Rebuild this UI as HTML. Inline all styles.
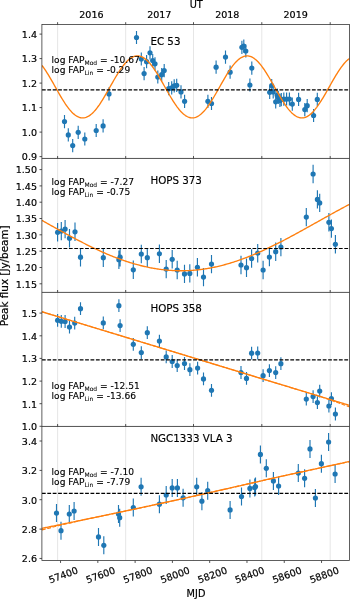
<!DOCTYPE html>
<html><head><meta charset="utf-8"><title>Light curves</title>
<style>html,body{margin:0;padding:0;background:#fff}svg{display:block}</style>
</head><body>
<svg width="350" height="599" viewBox="0 0 350 599" font-family="'DejaVu Sans','Liberation Sans',sans-serif" fill="#000">
<style>text{stroke:#000;stroke-width:0.2px}.a{stroke-width:0.12px}.t{stroke-width:0.15px}.s{stroke-width:0.05px}</style>
<rect width="350" height="599" fill="#fff"/>
<clipPath id="c0"><rect x="41.9" y="24.6" width="307.6" height="133.85"/></clipPath>
<path d="M57.6 24.6V158.45M125.7 24.6V158.45M193.5 24.6V158.45M261.8 24.6V158.45M330.2 24.6V158.45" stroke="#e3e3e3" stroke-width="0.9" fill="none"/>
<g clip-path="url(#c0)">
<path d="M64.5 115.0V128.2M68.3 128.3V141.5M72.7 139.0V152.2M78.2 125.7V138.9M84.8 132.4V145.6M96.2 123.9V137.1M103.1 119.3V132.5M109.0 87.3V100.5M136.5 30.9V44.1M141.3 52.4V65.6M144.1 67.0V80.2M146.6 55.1V68.3M150.0 46.2V59.4M152.7 54.0V67.2M155.0 57.2V70.4M157.8 70.4V83.6M161.7 68.1V81.3M164.2 64.0V77.2M168.7 82.1V95.3M171.7 81.2V94.4M174.2 79.3V92.5M176.7 78.7V91.9M181.0 85.3V98.5M184.6 94.7V107.9M207.9 94.7V107.9M211.5 96.9V110.1M216.1 60.6V73.8M225.5 50.5V63.7M230.1 65.6V78.8M241.9 40.7V53.9M243.8 39.6V52.8M245.8 44.4V57.6M249.9 78.4V91.6M251.8 61.5V74.7M269.7 85.7V98.9M271.7 78.9V92.1M273.2 85.4V98.6M275.7 95.2V108.4M277.2 88.6V101.8M278.3 90.7V103.9M279.9 93.8V107.0M281.3 93.0V106.2M283.8 92.6V105.8M286.6 92.4V105.6M289.4 92.4V105.6M292.3 97.5V110.7M298.6 92.8V106.0M304.8 103.0V116.2M307.2 99.1V112.3M313.6 108.9V122.1M317.3 92.8V106.0" stroke="#1f77b4" stroke-width="1.15" fill="none"/>
<circle cx="64.5" cy="121.6" r="2.6" fill="#1f77b4"/>
<circle cx="68.3" cy="134.9" r="2.6" fill="#1f77b4"/>
<circle cx="72.7" cy="145.6" r="2.6" fill="#1f77b4"/>
<circle cx="78.2" cy="132.3" r="2.6" fill="#1f77b4"/>
<circle cx="84.8" cy="139.0" r="2.6" fill="#1f77b4"/>
<circle cx="96.2" cy="130.5" r="2.6" fill="#1f77b4"/>
<circle cx="103.1" cy="125.9" r="2.6" fill="#1f77b4"/>
<circle cx="109.0" cy="93.9" r="2.6" fill="#1f77b4"/>
<circle cx="136.5" cy="37.5" r="2.6" fill="#1f77b4"/>
<circle cx="141.3" cy="59.0" r="2.6" fill="#1f77b4"/>
<circle cx="144.1" cy="73.6" r="2.6" fill="#1f77b4"/>
<circle cx="146.6" cy="61.7" r="2.6" fill="#1f77b4"/>
<circle cx="150.0" cy="52.8" r="2.6" fill="#1f77b4"/>
<circle cx="152.7" cy="60.6" r="2.6" fill="#1f77b4"/>
<circle cx="155.0" cy="63.8" r="2.6" fill="#1f77b4"/>
<circle cx="157.8" cy="77.0" r="2.6" fill="#1f77b4"/>
<circle cx="161.7" cy="74.7" r="2.6" fill="#1f77b4"/>
<circle cx="164.2" cy="70.6" r="2.6" fill="#1f77b4"/>
<circle cx="168.7" cy="88.7" r="2.6" fill="#1f77b4"/>
<circle cx="171.7" cy="87.8" r="2.6" fill="#1f77b4"/>
<circle cx="174.2" cy="85.9" r="2.6" fill="#1f77b4"/>
<circle cx="176.7" cy="85.3" r="2.6" fill="#1f77b4"/>
<circle cx="181.0" cy="91.9" r="2.6" fill="#1f77b4"/>
<circle cx="184.6" cy="101.3" r="2.6" fill="#1f77b4"/>
<circle cx="207.9" cy="101.3" r="2.6" fill="#1f77b4"/>
<circle cx="211.5" cy="103.5" r="2.6" fill="#1f77b4"/>
<circle cx="216.1" cy="67.2" r="2.6" fill="#1f77b4"/>
<circle cx="225.5" cy="57.1" r="2.6" fill="#1f77b4"/>
<circle cx="230.1" cy="72.2" r="2.6" fill="#1f77b4"/>
<circle cx="241.9" cy="47.3" r="2.6" fill="#1f77b4"/>
<circle cx="243.8" cy="46.2" r="2.6" fill="#1f77b4"/>
<circle cx="245.8" cy="51.0" r="2.6" fill="#1f77b4"/>
<circle cx="249.9" cy="85.0" r="2.6" fill="#1f77b4"/>
<circle cx="251.8" cy="68.1" r="2.6" fill="#1f77b4"/>
<circle cx="269.7" cy="92.3" r="2.6" fill="#1f77b4"/>
<circle cx="271.7" cy="85.5" r="2.6" fill="#1f77b4"/>
<circle cx="273.2" cy="92.0" r="2.6" fill="#1f77b4"/>
<circle cx="275.7" cy="101.8" r="2.6" fill="#1f77b4"/>
<circle cx="277.2" cy="95.2" r="2.6" fill="#1f77b4"/>
<circle cx="278.3" cy="97.3" r="2.6" fill="#1f77b4"/>
<circle cx="279.9" cy="100.4" r="2.6" fill="#1f77b4"/>
<circle cx="281.3" cy="99.6" r="2.6" fill="#1f77b4"/>
<circle cx="283.8" cy="99.2" r="2.6" fill="#1f77b4"/>
<circle cx="286.6" cy="99.0" r="2.6" fill="#1f77b4"/>
<circle cx="289.4" cy="99.0" r="2.6" fill="#1f77b4"/>
<circle cx="292.3" cy="104.1" r="2.6" fill="#1f77b4"/>
<circle cx="298.6" cy="99.4" r="2.6" fill="#1f77b4"/>
<circle cx="304.8" cy="109.6" r="2.6" fill="#1f77b4"/>
<circle cx="307.2" cy="105.7" r="2.6" fill="#1f77b4"/>
<circle cx="313.6" cy="115.5" r="2.6" fill="#1f77b4"/>
<circle cx="317.3" cy="99.4" r="2.6" fill="#1f77b4"/>
<path d="M41.90 65.41L42.93 66.76L43.95 68.18L44.98 69.66L46.00 71.21L47.03 72.81L48.05 74.45L49.08 76.14L50.10 77.87L51.13 79.63L52.15 81.41L53.18 83.21L54.20 85.02L55.23 86.85L56.25 88.67L57.28 90.48L58.31 92.28L59.33 94.07L60.36 95.83L61.38 97.56L62.41 99.25L63.43 100.90L64.46 102.50L65.48 104.05L66.51 105.53L67.53 106.96L68.56 108.31L69.58 109.59L70.61 110.79L71.63 111.91L72.66 112.94L73.69 113.89L74.71 114.74L75.74 115.49L76.76 116.14L77.79 116.70L78.81 117.15L79.84 117.50L80.86 117.74L81.89 117.87L82.91 117.90L83.94 117.82L84.96 117.63L85.99 117.34L87.01 116.94L88.04 116.44L89.07 115.83L90.09 115.13L91.12 114.33L92.14 113.43L93.17 112.44L94.19 111.37L95.22 110.21L96.24 108.97L97.27 107.65L98.29 106.26L99.32 104.81L100.34 103.29L101.37 101.71L102.39 100.09L103.42 98.42L104.45 96.71L105.47 94.96L106.50 93.19L107.52 91.40L108.55 89.59L109.57 87.77L110.60 85.95L111.62 84.13L112.65 82.32L113.67 80.52L114.70 78.75L115.72 77.01L116.75 75.30L117.77 73.63L118.80 72.01L119.83 70.44L120.85 68.92L121.88 67.47L122.90 66.08L123.93 64.77L124.95 63.53L125.98 62.38L127.00 61.31L128.03 60.32L129.05 59.43L130.08 58.63L131.10 57.94L132.13 57.34L133.15 56.84L134.18 56.45L135.21 56.16L136.23 55.98L137.26 55.90L138.28 55.93L139.31 56.07L140.33 56.32L141.36 56.67L142.38 57.13L143.41 57.68L144.43 58.34L145.46 59.10L146.48 59.96L147.51 60.90L148.53 61.94L149.56 63.06L150.59 64.27L151.61 65.55L152.64 66.91L153.66 68.34L154.69 69.83L155.71 71.38L156.74 72.98L157.76 74.63L158.79 76.33L159.81 78.06L160.84 79.82L161.86 81.60L162.89 83.41L163.91 85.22L164.94 87.04L165.97 88.86L166.99 90.68L168.02 92.48L169.04 94.26L170.07 96.02L171.09 97.74L172.12 99.43L173.14 101.07L174.17 102.67L175.19 104.21L176.22 105.69L177.24 107.11L178.27 108.45L179.29 109.72L180.32 110.92L181.35 112.03L182.37 113.05L183.40 113.98L184.42 114.82L185.45 115.57L186.47 116.21L187.50 116.75L188.52 117.19L189.55 117.53L190.57 117.76L191.60 117.88L192.62 117.89L193.65 117.80L194.67 117.60L195.70 117.30L196.73 116.89L197.75 116.38L198.78 115.76L199.80 115.05L200.83 114.24L201.85 113.33L202.88 112.33L203.90 111.25L204.93 110.08L205.95 108.83L206.98 107.50L208.00 106.11L209.03 104.64L210.05 103.12L211.08 101.54L212.11 99.91L213.13 98.23L214.16 96.52L215.18 94.77L216.21 93.00L217.23 91.20L218.26 89.39L219.28 87.57L220.31 85.75L221.33 83.93L222.36 82.12L223.38 80.33L224.41 78.56L225.43 76.82L226.46 75.12L227.49 73.45L228.51 71.84L229.54 70.27L230.56 68.76L231.59 67.32L232.61 65.94L233.64 64.63L234.66 63.41L235.69 62.26L236.71 61.20L237.74 60.22L238.76 59.34L239.79 58.55L240.81 57.87L241.84 57.28L242.87 56.79L243.89 56.41L244.92 56.13L245.94 55.96L246.97 55.90L247.99 55.94L249.02 56.09L250.04 56.35L251.07 56.71L252.09 57.18L253.12 57.75L254.14 58.42L255.17 59.19L256.19 60.05L257.22 61.01L258.25 62.06L259.27 63.19L260.30 64.40L261.32 65.70L262.35 67.06L263.37 68.50L264.40 69.99L265.42 71.55L266.45 73.16L267.47 74.81L268.50 76.51L269.52 78.24L270.55 80.01L271.57 81.80L272.60 83.60L273.63 85.42L274.65 87.24L275.68 89.06L276.70 90.87L277.73 92.67L278.75 94.45L279.78 96.20L280.80 97.93L281.83 99.61L282.85 101.25L283.88 102.84L284.90 104.37L285.93 105.85L286.95 107.25L287.98 108.59L289.01 109.86L290.03 111.04L291.06 112.14L292.08 113.16L293.11 114.08L294.13 114.91L295.16 115.64L296.18 116.27L297.21 116.80L298.23 117.23L299.26 117.56L300.28 117.77L301.31 117.88L302.33 117.89L303.36 117.79L304.39 117.58L305.41 117.26L306.44 116.84L307.46 116.32L308.49 115.69L309.51 114.96L310.54 114.14L311.56 113.23L312.59 112.22L313.61 111.13L314.64 109.95L315.66 108.69L316.69 107.36L317.71 105.95L318.74 104.48L319.77 102.95L320.79 101.37L321.82 99.73L322.84 98.05L323.87 96.33L324.89 94.58L325.92 92.80L326.94 91.01L327.97 89.19L328.99 87.37L330.02 85.55L331.04 83.74L332.07 81.93L333.09 80.14L334.12 78.37L335.15 76.64L336.17 74.94L337.20 73.28L338.22 71.67L339.25 70.11L340.27 68.60L341.30 67.17L342.32 65.80L343.35 64.50L344.37 63.28L345.40 62.14L346.42 61.09L347.45 60.12L348.47 59.25L349.50 58.48" stroke="#ff7f0e" stroke-width="1.35" fill="none" stroke-linejoin="round"/>
<path d="M41.9 89.9H349.5" stroke="#000" stroke-width="1.15" stroke-dasharray="3.8 1.6" fill="none"/>
</g>
<path d="M41.9 34.1h-2.4M41.9 58.6h-2.4M41.9 83.1h-2.4M41.9 107.6h-2.4M41.9 132.1h-2.4M41.9 156.6h-2.4" stroke="#333" stroke-width="0.85" fill="none"/>
<text x="37.0" y="37.90" font-size="9.55" text-anchor="end">1.4</text>
<text x="37.0" y="62.40" font-size="9.55" text-anchor="end">1.3</text>
<text x="37.0" y="86.90" font-size="9.55" text-anchor="end">1.2</text>
<text x="37.0" y="111.40" font-size="9.55" text-anchor="end">1.1</text>
<text x="37.0" y="135.90" font-size="9.55" text-anchor="end">1.0</text>
<text x="37.0" y="160.40" font-size="9.55" text-anchor="end">0.9</text>
<text class="t" x="150.4" y="45.0" font-size="10.3">EC 53</text>
<text class="a" x="51.6" y="63.0" font-size="9.1">log FAP<tspan class="s" font-size="6.01" dy="1.6">Mod</tspan><tspan dy="-1.6"> = -10.67</tspan></text>
<text class="a" x="51.6" y="73.1" font-size="9.1">log FAP<tspan class="s" font-size="6.01" dy="1.6">Lin</tspan><tspan dy="-1.6"> = -0.29</tspan></text>
<clipPath id="c1"><rect x="41.9" y="158.45" width="307.6" height="133.95"/></clipPath>
<path d="M57.6 158.45V292.4M125.7 158.45V292.4M193.5 158.45V292.4M261.8 158.45V292.4M330.2 158.45V292.4" stroke="#e3e3e3" stroke-width="0.9" fill="none"/>
<g clip-path="url(#c1)">
<path d="M57.6 223.1V241.5M61.3 221.9V240.3M65.1 219.9V238.3M69.5 229.0V247.4M75.0 222.6V241.0M80.5 248.0V266.4M103.3 248.5V266.9M118.9 250.5V268.9M120.1 248.0V266.4M133.3 260.6V279.0M141.3 244.8V263.2M147.3 248.5V266.9M159.4 244.6V263.0M166.2 259.9V278.3M172.2 250.1V268.5M177.2 260.8V279.2M184.5 264.7V283.1M189.8 264.2V282.6M197.4 258.1V276.5M203.5 267.9V286.3M211.5 254.9V273.3M241.0 255.8V274.2M246.5 258.5V276.9M251.6 249.3V267.7M257.7 244.0V262.4M263.1 260.8V279.2M269.4 247.9V266.3M275.7 242.5V260.9M280.9 237.9V256.3M306.3 207.9V226.3M313.1 164.8V183.2M317.4 190.2V208.6M319.7 193.7V212.1M328.9 213.1V231.5M331.4 219.4V237.8M335.4 235.1V253.5" stroke="#1f77b4" stroke-width="1.15" fill="none"/>
<circle cx="57.6" cy="232.3" r="2.6" fill="#1f77b4"/>
<circle cx="61.3" cy="231.1" r="2.6" fill="#1f77b4"/>
<circle cx="65.1" cy="229.1" r="2.6" fill="#1f77b4"/>
<circle cx="69.5" cy="238.2" r="2.6" fill="#1f77b4"/>
<circle cx="75.0" cy="231.8" r="2.6" fill="#1f77b4"/>
<circle cx="80.5" cy="257.2" r="2.6" fill="#1f77b4"/>
<circle cx="103.3" cy="257.7" r="2.6" fill="#1f77b4"/>
<circle cx="118.9" cy="259.7" r="2.6" fill="#1f77b4"/>
<circle cx="120.1" cy="257.2" r="2.6" fill="#1f77b4"/>
<circle cx="133.3" cy="269.8" r="2.6" fill="#1f77b4"/>
<circle cx="141.3" cy="254.0" r="2.6" fill="#1f77b4"/>
<circle cx="147.3" cy="257.7" r="2.6" fill="#1f77b4"/>
<circle cx="159.4" cy="253.8" r="2.6" fill="#1f77b4"/>
<circle cx="166.2" cy="269.1" r="2.6" fill="#1f77b4"/>
<circle cx="172.2" cy="259.3" r="2.6" fill="#1f77b4"/>
<circle cx="177.2" cy="270.0" r="2.6" fill="#1f77b4"/>
<circle cx="184.5" cy="273.9" r="2.6" fill="#1f77b4"/>
<circle cx="189.8" cy="273.4" r="2.6" fill="#1f77b4"/>
<circle cx="197.4" cy="267.3" r="2.6" fill="#1f77b4"/>
<circle cx="203.5" cy="277.1" r="2.6" fill="#1f77b4"/>
<circle cx="211.5" cy="264.1" r="2.6" fill="#1f77b4"/>
<circle cx="241.0" cy="265.0" r="2.6" fill="#1f77b4"/>
<circle cx="246.5" cy="267.7" r="2.6" fill="#1f77b4"/>
<circle cx="251.6" cy="258.5" r="2.6" fill="#1f77b4"/>
<circle cx="257.7" cy="253.2" r="2.6" fill="#1f77b4"/>
<circle cx="263.1" cy="270.0" r="2.6" fill="#1f77b4"/>
<circle cx="269.4" cy="257.1" r="2.6" fill="#1f77b4"/>
<circle cx="275.7" cy="251.7" r="2.6" fill="#1f77b4"/>
<circle cx="280.9" cy="247.1" r="2.6" fill="#1f77b4"/>
<circle cx="306.3" cy="217.1" r="2.6" fill="#1f77b4"/>
<circle cx="313.1" cy="174.0" r="2.6" fill="#1f77b4"/>
<circle cx="317.4" cy="199.4" r="2.6" fill="#1f77b4"/>
<circle cx="319.7" cy="202.9" r="2.6" fill="#1f77b4"/>
<circle cx="328.9" cy="222.3" r="2.6" fill="#1f77b4"/>
<circle cx="331.4" cy="228.6" r="2.6" fill="#1f77b4"/>
<circle cx="335.4" cy="244.3" r="2.6" fill="#1f77b4"/>
<path d="M41.90 220.38L42.93 220.96L43.95 221.53L44.98 222.11L46.00 222.68L47.03 223.26L48.05 223.83L49.08 224.41L50.10 224.98L51.13 225.56L52.15 226.13L53.18 226.70L54.20 227.28L55.23 227.85L56.25 228.42L57.28 228.99L58.31 229.56L59.33 230.13L60.36 230.69L61.38 231.26L62.41 231.82L63.43 232.39L64.46 232.95L65.48 233.51L66.51 234.07L67.53 234.63L68.56 235.18L69.58 235.73L70.61 236.29L71.63 236.84L72.66 237.38L73.69 237.93L74.71 238.47L75.74 239.01L76.76 239.55L77.79 240.09L78.81 240.62L79.84 241.15L80.86 241.68L81.89 242.21L82.91 242.73L83.94 243.25L84.96 243.77L85.99 244.28L87.01 244.79L88.04 245.30L89.07 245.81L90.09 246.31L91.12 246.81L92.14 247.30L93.17 247.79L94.19 248.28L95.22 248.76L96.24 249.24L97.27 249.72L98.29 250.19L99.32 250.66L100.34 251.12L101.37 251.58L102.39 252.04L103.42 252.49L104.45 252.94L105.47 253.38L106.50 253.82L107.52 254.26L108.55 254.69L109.57 255.11L110.60 255.53L111.62 255.95L112.65 256.36L113.67 256.77L114.70 257.17L115.72 257.57L116.75 257.96L117.77 258.35L118.80 258.73L119.83 259.11L120.85 259.48L121.88 259.84L122.90 260.20L123.93 260.56L124.95 260.91L125.98 261.26L127.00 261.59L128.03 261.93L129.05 262.26L130.08 262.58L131.10 262.90L132.13 263.21L133.15 263.51L134.18 263.81L135.21 264.11L136.23 264.39L137.26 264.68L138.28 264.95L139.31 265.22L140.33 265.49L141.36 265.74L142.38 266.00L143.41 266.24L144.43 266.48L145.46 266.71L146.48 266.94L147.51 267.16L148.53 267.38L149.56 267.58L150.59 267.79L151.61 267.98L152.64 268.17L153.66 268.35L154.69 268.53L155.71 268.70L156.74 268.86L157.76 269.02L158.79 269.17L159.81 269.31L160.84 269.45L161.86 269.58L162.89 269.70L163.91 269.82L164.94 269.92L165.97 270.03L166.99 270.12L168.02 270.21L169.04 270.30L170.07 270.37L171.09 270.44L172.12 270.50L173.14 270.56L174.17 270.61L175.19 270.65L176.22 270.69L177.24 270.71L178.27 270.74L179.29 270.75L180.32 270.76L181.35 270.76L182.37 270.75L183.40 270.74L184.42 270.72L185.45 270.70L186.47 270.66L187.50 270.62L188.52 270.58L189.55 270.52L190.57 270.46L191.60 270.40L192.62 270.32L193.65 270.24L194.67 270.15L195.70 270.06L196.73 269.96L197.75 269.85L198.78 269.74L199.80 269.62L200.83 269.49L201.85 269.35L202.88 269.21L203.90 269.07L204.93 268.91L205.95 268.75L206.98 268.58L208.00 268.41L209.03 268.23L210.05 268.04L211.08 267.85L212.11 267.65L213.13 267.45L214.16 267.23L215.18 267.01L216.21 266.79L217.23 266.56L218.26 266.32L219.28 266.08L220.31 265.83L221.33 265.57L222.36 265.31L223.38 265.04L224.41 264.77L225.43 264.49L226.46 264.20L227.49 263.91L228.51 263.61L229.54 263.31L230.56 263.00L231.59 262.68L232.61 262.36L233.64 262.04L234.66 261.70L235.69 261.37L236.71 261.02L237.74 260.68L238.76 260.32L239.79 259.96L240.81 259.60L241.84 259.23L242.87 258.85L243.89 258.47L244.92 258.09L245.94 257.70L246.97 257.30L247.99 256.90L249.02 256.50L250.04 256.09L251.07 255.67L252.09 255.25L253.12 254.83L254.14 254.40L255.17 253.97L256.19 253.53L257.22 253.09L258.25 252.64L259.27 252.19L260.30 251.73L261.32 251.27L262.35 250.81L263.37 250.34L264.40 249.87L265.42 249.40L266.45 248.92L267.47 248.44L268.50 247.95L269.52 247.46L270.55 246.97L271.57 246.47L272.60 245.97L273.63 245.47L274.65 244.96L275.68 244.45L276.70 243.94L277.73 243.42L278.75 242.90L279.78 242.38L280.80 241.85L281.83 241.33L282.85 240.80L283.88 240.26L284.90 239.73L285.93 239.19L286.95 238.65L287.98 238.11L289.01 237.56L290.03 237.01L291.06 236.47L292.08 235.91L293.11 235.36L294.13 234.81L295.16 234.25L296.18 233.69L297.21 233.13L298.23 232.57L299.26 232.01L300.28 231.44L301.31 230.88L302.33 230.31L303.36 229.74L304.39 229.18L305.41 228.61L306.44 228.03L307.46 227.46L308.49 226.89L309.51 226.32L310.54 225.74L311.56 225.17L312.59 224.60L313.61 224.02L314.64 223.45L315.66 222.87L316.69 222.30L317.71 221.72L318.74 221.15L319.77 220.57L320.79 220.00L321.82 219.42L322.84 218.85L323.87 218.28L324.89 217.70L325.92 217.13L326.94 216.56L327.97 215.99L328.99 215.42L330.02 214.85L331.04 214.28L332.07 213.72L333.09 213.15L334.12 212.59L335.15 212.02L336.17 211.46L337.20 210.90L338.22 210.34L339.25 209.79L340.27 209.23L341.30 208.68L342.32 208.13L343.35 207.58L344.37 207.03L345.40 206.49L346.42 205.95L347.45 205.41L348.47 204.87L349.50 204.33" stroke="#ff7f0e" stroke-width="1.35" fill="none" stroke-linejoin="round"/>
<path d="M41.9 248.45H349.5" stroke="#000" stroke-width="1.15" stroke-dasharray="3.8 1.6" fill="none"/>
</g>
<path d="M41.9 169.6h-2.4M41.9 185.9h-2.4M41.9 202.2h-2.4M41.9 218.5h-2.4M41.9 234.8h-2.4M41.9 251.1h-2.4M41.9 267.5h-2.4M41.9 283.8h-2.4" stroke="#333" stroke-width="0.85" fill="none"/>
<text x="37.0" y="173.40" font-size="9.55" text-anchor="end">1.50</text>
<text x="37.0" y="189.70" font-size="9.55" text-anchor="end">1.45</text>
<text x="37.0" y="206.00" font-size="9.55" text-anchor="end">1.40</text>
<text x="37.0" y="222.30" font-size="9.55" text-anchor="end">1.35</text>
<text x="37.0" y="238.60" font-size="9.55" text-anchor="end">1.30</text>
<text x="37.0" y="254.90" font-size="9.55" text-anchor="end">1.25</text>
<text x="37.0" y="271.30" font-size="9.55" text-anchor="end">1.20</text>
<text x="37.0" y="287.60" font-size="9.55" text-anchor="end">1.15</text>
<text class="t" x="150.4" y="183.6" font-size="10.3">HOPS 373</text>
<text class="a" x="51.6" y="184.9" font-size="9.1">log FAP<tspan class="s" font-size="6.01" dy="1.6">Mod</tspan><tspan dy="-1.6"> = -7.27</tspan></text>
<text class="a" x="51.6" y="195.0" font-size="9.1">log FAP<tspan class="s" font-size="6.01" dy="1.6">Lin</tspan><tspan dy="-1.6"> = -0.75</tspan></text>
<clipPath id="c2"><rect x="41.9" y="292.4" width="307.6" height="134.05"/></clipPath>
<path d="M57.6 292.4V426.45M125.7 292.4V426.45M193.5 292.4V426.45M261.8 292.4V426.45M330.2 292.4V426.45" stroke="#e3e3e3" stroke-width="0.9" fill="none"/>
<g clip-path="url(#c2)">
<path d="M57.6 313.9V326.7M61.3 314.9V327.7M65.1 315.1V327.9M69.5 320.6V333.4M74.7 316.7V329.5M80.5 302.3V315.1M103.3 316.5V329.3M118.9 299.3V312.1M120.1 319.2V332.0M133.3 337.9V350.7M141.3 346.2V359.0M147.3 326.3V339.1M159.4 334.7V347.5M166.2 350.5V363.3M172.2 355.1V367.9M177.2 359.2V372.0M184.5 357.1V369.9M189.9 363.3V376.1M197.6 361.7V374.5M203.5 372.5V385.3M211.5 383.9V396.7M241.0 366.1V378.9M246.5 372.0V384.8M251.6 346.8V359.6M257.7 346.6V359.4M263.1 369.3V382.1M269.4 364.2V377.0M275.7 366.2V379.0M280.9 357.3V370.1M306.3 392.7V405.5M313.1 390.2V403.0M317.4 396.2V409.0M319.7 384.7V397.5M328.9 399.6V412.4M331.4 392.2V405.0M335.4 407.6V420.4" stroke="#1f77b4" stroke-width="1.15" fill="none"/>
<circle cx="57.6" cy="320.3" r="2.6" fill="#1f77b4"/>
<circle cx="61.3" cy="321.3" r="2.6" fill="#1f77b4"/>
<circle cx="65.1" cy="321.5" r="2.6" fill="#1f77b4"/>
<circle cx="69.5" cy="327.0" r="2.6" fill="#1f77b4"/>
<circle cx="74.7" cy="323.1" r="2.6" fill="#1f77b4"/>
<circle cx="80.5" cy="308.7" r="2.6" fill="#1f77b4"/>
<circle cx="103.3" cy="322.9" r="2.6" fill="#1f77b4"/>
<circle cx="118.9" cy="305.7" r="2.6" fill="#1f77b4"/>
<circle cx="120.1" cy="325.6" r="2.6" fill="#1f77b4"/>
<circle cx="133.3" cy="344.3" r="2.6" fill="#1f77b4"/>
<circle cx="141.3" cy="352.6" r="2.6" fill="#1f77b4"/>
<circle cx="147.3" cy="332.7" r="2.6" fill="#1f77b4"/>
<circle cx="159.4" cy="341.1" r="2.6" fill="#1f77b4"/>
<circle cx="166.2" cy="356.9" r="2.6" fill="#1f77b4"/>
<circle cx="172.2" cy="361.5" r="2.6" fill="#1f77b4"/>
<circle cx="177.2" cy="365.6" r="2.6" fill="#1f77b4"/>
<circle cx="184.5" cy="363.5" r="2.6" fill="#1f77b4"/>
<circle cx="189.9" cy="369.7" r="2.6" fill="#1f77b4"/>
<circle cx="197.6" cy="368.1" r="2.6" fill="#1f77b4"/>
<circle cx="203.5" cy="378.9" r="2.6" fill="#1f77b4"/>
<circle cx="211.5" cy="390.3" r="2.6" fill="#1f77b4"/>
<circle cx="241.0" cy="372.5" r="2.6" fill="#1f77b4"/>
<circle cx="246.5" cy="378.4" r="2.6" fill="#1f77b4"/>
<circle cx="251.6" cy="353.2" r="2.6" fill="#1f77b4"/>
<circle cx="257.7" cy="353.0" r="2.6" fill="#1f77b4"/>
<circle cx="263.1" cy="375.7" r="2.6" fill="#1f77b4"/>
<circle cx="269.4" cy="370.6" r="2.6" fill="#1f77b4"/>
<circle cx="275.7" cy="372.6" r="2.6" fill="#1f77b4"/>
<circle cx="280.9" cy="363.7" r="2.6" fill="#1f77b4"/>
<circle cx="306.3" cy="399.1" r="2.6" fill="#1f77b4"/>
<circle cx="313.1" cy="396.6" r="2.6" fill="#1f77b4"/>
<circle cx="317.4" cy="402.6" r="2.6" fill="#1f77b4"/>
<circle cx="319.7" cy="391.1" r="2.6" fill="#1f77b4"/>
<circle cx="328.9" cy="406.0" r="2.6" fill="#1f77b4"/>
<circle cx="331.4" cy="398.6" r="2.6" fill="#1f77b4"/>
<circle cx="335.4" cy="414.0" r="2.6" fill="#1f77b4"/>
<path d="M41.90 311.73L42.93 312.04L43.95 312.35L44.98 312.67L46.00 312.98L47.03 313.29L48.05 313.60L49.08 313.92L50.10 314.23L51.13 314.54L52.15 314.85L53.18 315.16L54.20 315.48L55.23 315.79L56.25 316.10L57.28 316.41L58.31 316.73L59.33 317.04L60.36 317.35L61.38 317.66L62.41 317.97L63.43 318.29L64.46 318.60L65.48 318.91L66.51 319.22L67.53 319.54L68.56 319.85L69.58 320.16L70.61 320.47L71.63 320.78L72.66 321.10L73.69 321.41L74.71 321.72L75.74 322.03L76.76 322.35L77.79 322.66L78.81 322.97L79.84 323.28L80.86 323.59L81.89 323.91L82.91 324.22L83.94 324.53L84.96 324.84L85.99 325.16L87.01 325.47L88.04 325.78L89.07 326.09L90.09 326.40L91.12 326.72L92.14 327.03L93.17 327.34L94.19 327.65L95.22 327.97L96.24 328.28L97.27 328.59L98.29 328.90L99.32 329.21L100.34 329.53L101.37 329.84L102.39 330.15L103.42 330.46L104.45 330.78L105.47 331.09L106.50 331.40L107.52 331.71L108.55 332.02L109.57 332.34L110.60 332.65L111.62 332.96L112.65 333.27L113.67 333.59L114.70 333.90L115.72 334.21L116.75 334.52L117.77 334.83L118.80 335.15L119.83 335.46L120.85 335.77L121.88 336.08L122.90 336.40L123.93 336.71L124.95 337.02L125.98 337.33L127.00 337.64L128.03 337.96L129.05 338.27L130.08 338.58L131.10 338.89L132.13 339.21L133.15 339.52L134.18 339.83L135.21 340.14L136.23 340.45L137.26 340.77L138.28 341.08L139.31 341.39L140.33 341.70L141.36 342.02L142.38 342.33L143.41 342.64L144.43 342.95L145.46 343.26L146.48 343.58L147.51 343.89L148.53 344.20L149.56 344.51L150.59 344.83L151.61 345.14L152.64 345.45L153.66 345.76L154.69 346.07L155.71 346.39L156.74 346.70L157.76 347.01L158.79 347.32L159.81 347.64L160.84 347.95L161.86 348.26L162.89 348.57L163.91 348.88L164.94 349.20L165.97 349.51L166.99 349.82L168.02 350.13L169.04 350.44L170.07 350.76L171.09 351.07L172.12 351.38L173.14 351.69L174.17 352.01L175.19 352.32L176.22 352.63L177.24 352.94L178.27 353.25L179.29 353.57L180.32 353.88L181.35 354.19L182.37 354.50L183.40 354.82L184.42 355.13L185.45 355.44L186.47 355.75L187.50 356.06L188.52 356.38L189.55 356.69L190.57 357.00L191.60 357.31L192.62 357.63L193.65 357.94L194.67 358.25L195.70 358.56L196.73 358.87L197.75 359.19L198.78 359.50L199.80 359.81L200.83 360.12L201.85 360.44L202.88 360.75L203.90 361.06L204.93 361.37L205.95 361.68L206.98 362.00L208.00 362.31L209.03 362.62L210.05 362.93L211.08 363.25L212.11 363.56L213.13 363.87L214.16 364.18L215.18 364.49L216.21 364.81L217.23 365.12L218.26 365.43L219.28 365.74L220.31 366.06L221.33 366.37L222.36 366.68L223.38 366.99L224.41 367.30L225.43 367.62L226.46 367.93L227.49 368.24L228.51 368.55L229.54 368.87L230.56 369.18L231.59 369.49L232.61 369.80L233.64 370.11L234.66 370.43L235.69 370.74L236.71 371.05L237.74 371.36L238.76 371.68L239.79 371.99L240.81 372.30L241.84 372.61L242.87 372.92L243.89 373.24L244.92 373.55L245.94 373.86L246.97 374.17L247.99 374.49L249.02 374.80L250.04 375.11L251.07 375.42L252.09 375.73L253.12 376.05L254.14 376.36L255.17 376.67L256.19 376.98L257.22 377.30L258.25 377.61L259.27 377.92L260.30 378.23L261.32 378.54L262.35 378.86L263.37 379.17L264.40 379.48L265.42 379.79L266.45 380.11L267.47 380.42L268.50 380.73L269.52 381.04L270.55 381.35L271.57 381.67L272.60 381.98L273.63 382.29L274.65 382.60L275.68 382.92L276.70 383.23L277.73 383.54L278.75 383.85L279.78 384.16L280.80 384.48L281.83 384.79L282.85 385.10L283.88 385.41L284.90 385.73L285.93 386.04L286.95 386.35L287.98 386.66L289.01 386.97L290.03 387.29L291.06 387.60L292.08 387.91L293.11 388.22L294.13 388.54L295.16 388.85L296.18 389.16L297.21 389.47L298.23 389.78L299.26 390.10L300.28 390.41L301.31 390.72L302.33 391.03L303.36 391.35L304.39 391.66L305.41 391.97L306.44 392.28L307.46 392.59L308.49 392.91L309.51 393.22L310.54 393.53L311.56 393.84L312.59 394.15L313.61 394.47L314.64 394.78L315.66 395.09L316.69 395.40L317.71 395.72L318.74 396.03L319.77 396.34L320.79 396.65L321.82 396.96L322.84 397.28L323.87 397.59L324.89 397.90L325.92 398.21L326.94 398.53L327.97 398.84L328.99 399.15L330.02 399.46L331.04 399.77L332.07 400.09L333.09 400.40L334.12 400.71L335.15 401.02L336.17 401.34L337.20 401.65L338.22 401.96L339.25 402.27L340.27 402.58L341.30 402.90L342.32 403.21L343.35 403.52L344.37 403.83L345.40 404.15L346.42 404.46L347.45 404.77L348.47 405.08L349.50 405.39" stroke="#ff7f0e" stroke-width="1.35" fill="none" stroke-linejoin="round"/>
<path d="M41.90 311.73L42.93 312.04L43.95 312.35L44.98 312.67L46.00 312.98L47.03 313.29L48.05 313.60L49.08 313.92L50.10 314.23L51.13 314.54L52.15 314.85L53.18 315.16L54.20 315.48L55.23 315.79L56.25 316.10L57.28 316.41L58.31 316.73L59.33 317.04L60.36 317.35L61.38 317.66L62.41 317.97L63.43 318.29L64.46 318.60L65.48 318.91L66.51 319.22L67.53 319.54L68.56 319.85L69.58 320.16L70.61 320.47L71.63 320.78L72.66 321.10L73.69 321.41L74.71 321.72L75.74 322.03L76.76 322.35L77.79 322.66L78.81 322.97L79.84 323.28L80.86 323.59L81.89 323.91L82.91 324.22L83.94 324.53L84.96 324.84L85.99 325.16L87.01 325.47L88.04 325.78L89.07 326.09L90.09 326.40L91.12 326.72L92.14 327.03L93.17 327.34L94.19 327.65L95.22 327.97L96.24 328.28L97.27 328.59L98.29 328.90L99.32 329.21L100.34 329.53L101.37 329.84L102.39 330.15L103.42 330.46L104.45 330.78L105.47 331.09L106.50 331.40L107.52 331.71L108.55 332.02L109.57 332.34L110.60 332.65L111.62 332.96L112.65 333.27L113.67 333.59L114.70 333.90L115.72 334.21L116.75 334.52L117.77 334.83L118.80 335.15L119.83 335.46L120.85 335.77L121.88 336.08L122.90 336.40L123.93 336.71L124.95 337.02L125.98 337.33L127.00 337.64L128.03 337.96L129.05 338.27L130.08 338.58L131.10 338.89L132.13 339.21L133.15 339.52L134.18 339.83L135.21 340.14L136.23 340.45L137.26 340.77L138.28 341.08L139.31 341.39L140.33 341.70L141.36 342.02L142.38 342.33L143.41 342.64L144.43 342.95L145.46 343.26L146.48 343.58L147.51 343.89L148.53 344.20L149.56 344.51L150.59 344.83L151.61 345.14L152.64 345.45L153.66 345.76L154.69 346.07L155.71 346.39L156.74 346.70L157.76 347.01L158.79 347.32L159.81 347.64L160.84 347.95L161.86 348.26L162.89 348.57L163.91 348.88L164.94 349.20L165.97 349.51L166.99 349.82L168.02 350.13L169.04 350.44L170.07 350.76L171.09 351.07L172.12 351.38L173.14 351.69L174.17 352.01L175.19 352.32L176.22 352.63L177.24 352.94L178.27 353.25L179.29 353.57L180.32 353.88L181.35 354.19L182.37 354.50L183.40 354.82L184.42 355.13L185.45 355.44L186.47 355.75L187.50 356.06L188.52 356.38L189.55 356.69L190.57 357.00L191.60 357.31L192.62 357.63L193.65 357.94L194.67 358.25L195.70 358.56L196.73 358.87L197.75 359.19L198.78 359.50L199.80 359.81L200.83 360.12L201.85 360.44L202.88 360.75L203.90 361.06L204.93 361.37L205.95 361.68L206.98 362.00L208.00 362.31L209.03 362.62L210.05 362.93L211.08 363.25L212.11 363.56L213.13 363.87L214.16 364.18L215.18 364.49L216.21 364.81L217.23 365.12L218.26 365.43L219.28 365.74L220.31 366.06L221.33 366.37L222.36 366.68L223.38 366.99L224.41 367.30L225.43 367.62L226.46 367.93L227.49 368.24L228.51 368.55L229.54 368.87L230.56 369.18L231.59 369.49L232.61 369.80L233.64 370.11L234.66 370.43L235.69 370.74L236.71 371.05L237.74 371.36L238.76 371.68L239.79 371.99L240.81 372.30L241.84 372.61L242.87 372.92L243.89 373.24L244.92 373.55L245.94 373.86L246.97 374.17L247.99 374.49L249.02 374.80L250.04 375.11L251.07 375.42L252.09 375.73L253.12 376.05L254.14 376.36L255.17 376.67L256.19 376.98L257.22 377.30L258.25 377.61L259.27 377.92L260.30 378.23L261.32 378.54L262.35 378.86L263.37 379.17L264.40 379.48L265.42 379.79L266.45 380.11L267.47 380.42L268.50 380.73L269.52 381.04L270.55 381.35L271.57 381.67L272.60 381.98L273.63 382.29L274.65 382.60L275.68 382.92L276.70 383.23L277.73 383.54L278.75 383.85L279.78 384.16L280.80 384.48L281.83 384.79L282.85 385.10L283.88 385.41L284.90 385.73L285.93 386.04L286.95 386.35L287.98 386.66L289.01 386.97L290.03 387.29L291.06 387.60L292.08 387.91L293.11 388.22L294.13 388.54L295.16 388.85L296.18 389.16L297.21 389.47L298.23 389.78L299.26 390.10L300.28 390.41L301.31 390.72L302.33 391.03L303.36 391.35L304.39 391.66L305.41 391.97L306.44 392.28L307.46 392.59L308.49 392.91L309.51 393.22L310.54 393.53L311.56 393.84L312.59 394.15L313.61 394.47L314.64 394.78L315.66 395.09L316.69 395.40L317.71 395.72L318.74 396.04L319.77 396.39L320.79 396.73L321.82 397.08L322.84 397.43L323.87 397.79L324.89 398.14L325.92 398.49L326.94 398.85L327.97 399.21L328.99 399.57L330.02 399.93L331.04 400.29L332.07 400.65L333.09 401.01L334.12 401.37L335.15 401.73L336.17 402.10L337.20 402.46L338.22 402.83L339.25 403.19L340.27 403.56L341.30 403.92L342.32 404.29L343.35 404.66L344.37 405.02L345.40 405.39L346.42 405.76L347.45 406.13L348.47 406.50L349.50 406.87" stroke="#ff7f0e" stroke-width="1.1" stroke-dasharray="3.9 1.6" fill="none"/>
<path d="M41.9 359.85H349.5" stroke="#000" stroke-width="1.15" stroke-dasharray="3.8 1.6" fill="none"/>
</g>
<path d="M41.9 313.1h-2.4M41.9 335.8h-2.4M41.9 358.4h-2.4M41.9 381.1h-2.4M41.9 403.7h-2.4M41.9 426.3h-2.4" stroke="#333" stroke-width="0.85" fill="none"/>
<text x="37.0" y="316.90" font-size="9.55" text-anchor="end">1.5</text>
<text x="37.0" y="339.60" font-size="9.55" text-anchor="end">1.4</text>
<text x="37.0" y="362.20" font-size="9.55" text-anchor="end">1.3</text>
<text x="37.0" y="384.90" font-size="9.55" text-anchor="end">1.2</text>
<text x="37.0" y="407.50" font-size="9.55" text-anchor="end">1.1</text>
<text x="37.0" y="430.10" font-size="9.55" text-anchor="end">1.0</text>
<text class="t" x="150.4" y="311.9" font-size="10.3">HOPS 358</text>
<text class="a" x="51.6" y="388.9" font-size="9.1">log FAP<tspan class="s" font-size="6.01" dy="1.6">Mod</tspan><tspan dy="-1.6"> = -12.51</tspan></text>
<text class="a" x="51.6" y="399.0" font-size="9.1">log FAP<tspan class="s" font-size="6.01" dy="1.6">Lin</tspan><tspan dy="-1.6"> = -13.66</tspan></text>
<clipPath id="c3"><rect x="41.9" y="426.45" width="307.6" height="134.09999999999997"/></clipPath>
<path d="M57.6 426.45V560.55M125.7 426.45V560.55M193.5 426.45V560.55M261.8 426.45V560.55M330.2 426.45V560.55" stroke="#e3e3e3" stroke-width="0.9" fill="none"/>
<g clip-path="url(#c3)">
<path d="M56.5 504.1V522.1M61.0 521.7V539.7M69.3 505.0V523.0M74.1 502.0V520.0M98.5 527.9V545.9M103.8 536.3V554.3M118.5 505.0V523.0M119.7 508.7V526.7M133.3 498.6V516.6M141.1 477.8V495.8M159.4 495.2V513.2M166.2 486.0V504.0M172.2 478.9V496.9M177.4 478.9V496.9M183.1 488.8V506.8M196.7 477.8V495.8M201.9 492.2V510.2M207.7 481.7V499.7M230.1 500.9V518.9M241.5 487.6V505.6M249.9 479.4V497.4M254.7 478.6V496.6M255.5 477.6V495.6M260.4 445.4V463.4M266.3 459.3V477.3M273.4 471.9V489.9M278.6 477.0V495.0M298.3 464.1V482.1M304.6 469.3V487.3M310.0 439.9V457.9M315.4 489.0V507.0M321.4 454.7V472.7M328.6 433.0V451.0M335.1 465.0V483.0" stroke="#1f77b4" stroke-width="1.15" fill="none"/>
<circle cx="56.5" cy="513.1" r="2.6" fill="#1f77b4"/>
<circle cx="61.0" cy="530.7" r="2.6" fill="#1f77b4"/>
<circle cx="69.3" cy="514.0" r="2.6" fill="#1f77b4"/>
<circle cx="74.1" cy="511.0" r="2.6" fill="#1f77b4"/>
<circle cx="98.5" cy="536.9" r="2.6" fill="#1f77b4"/>
<circle cx="103.8" cy="545.3" r="2.6" fill="#1f77b4"/>
<circle cx="118.5" cy="514.0" r="2.6" fill="#1f77b4"/>
<circle cx="119.7" cy="517.7" r="2.6" fill="#1f77b4"/>
<circle cx="133.3" cy="507.6" r="2.6" fill="#1f77b4"/>
<circle cx="141.1" cy="486.8" r="2.6" fill="#1f77b4"/>
<circle cx="159.4" cy="504.2" r="2.6" fill="#1f77b4"/>
<circle cx="166.2" cy="495.0" r="2.6" fill="#1f77b4"/>
<circle cx="172.2" cy="487.9" r="2.6" fill="#1f77b4"/>
<circle cx="177.4" cy="487.9" r="2.6" fill="#1f77b4"/>
<circle cx="183.1" cy="497.8" r="2.6" fill="#1f77b4"/>
<circle cx="196.7" cy="486.8" r="2.6" fill="#1f77b4"/>
<circle cx="201.9" cy="501.2" r="2.6" fill="#1f77b4"/>
<circle cx="207.7" cy="490.7" r="2.6" fill="#1f77b4"/>
<circle cx="230.1" cy="509.9" r="2.6" fill="#1f77b4"/>
<circle cx="241.5" cy="496.6" r="2.6" fill="#1f77b4"/>
<circle cx="249.9" cy="488.4" r="2.6" fill="#1f77b4"/>
<circle cx="254.7" cy="487.6" r="2.6" fill="#1f77b4"/>
<circle cx="255.5" cy="486.6" r="2.6" fill="#1f77b4"/>
<circle cx="260.4" cy="454.4" r="2.6" fill="#1f77b4"/>
<circle cx="266.3" cy="468.3" r="2.6" fill="#1f77b4"/>
<circle cx="273.4" cy="480.9" r="2.6" fill="#1f77b4"/>
<circle cx="278.6" cy="486.0" r="2.6" fill="#1f77b4"/>
<circle cx="298.3" cy="473.1" r="2.6" fill="#1f77b4"/>
<circle cx="304.6" cy="478.3" r="2.6" fill="#1f77b4"/>
<circle cx="310.0" cy="448.9" r="2.6" fill="#1f77b4"/>
<circle cx="315.4" cy="498.0" r="2.6" fill="#1f77b4"/>
<circle cx="321.4" cy="463.7" r="2.6" fill="#1f77b4"/>
<circle cx="328.6" cy="442.0" r="2.6" fill="#1f77b4"/>
<circle cx="335.1" cy="474.0" r="2.6" fill="#1f77b4"/>
<path d="M41.90 528.38L42.93 528.17L43.95 527.96L44.98 527.75L46.00 527.53L47.03 527.32L48.05 527.11L49.08 526.90L50.10 526.69L51.13 526.48L52.15 526.27L53.18 526.06L54.20 525.85L55.23 525.64L56.25 525.43L57.28 525.22L58.31 525.01L59.33 524.80L60.36 524.58L61.38 524.37L62.41 524.16L63.43 523.95L64.46 523.74L65.48 523.53L66.51 523.32L67.53 523.11L68.56 522.90L69.58 522.68L70.61 522.47L71.63 522.26L72.66 522.05L73.69 521.84L74.71 521.63L75.74 521.41L76.76 521.20L77.79 520.99L78.81 520.78L79.84 520.57L80.86 520.35L81.89 520.14L82.91 519.93L83.94 519.72L84.96 519.51L85.99 519.29L87.01 519.08L88.04 518.87L89.07 518.65L90.09 518.44L91.12 518.23L92.14 518.01L93.17 517.80L94.19 517.59L95.22 517.37L96.24 517.16L97.27 516.95L98.29 516.73L99.32 516.52L100.34 516.31L101.37 516.09L102.39 515.88L103.42 515.66L104.45 515.45L105.47 515.23L106.50 515.02L107.52 514.80L108.55 514.59L109.57 514.37L110.60 514.16L111.62 513.94L112.65 513.73L113.67 513.51L114.70 513.30L115.72 513.08L116.75 512.86L117.77 512.65L118.80 512.43L119.83 512.21L120.85 512.00L121.88 511.78L122.90 511.56L123.93 511.35L124.95 511.13L125.98 510.91L127.00 510.69L128.03 510.48L129.05 510.26L130.08 510.04L131.10 509.82L132.13 509.60L133.15 509.38L134.18 509.17L135.21 508.95L136.23 508.73L137.26 508.51L138.28 508.29L139.31 508.07L140.33 507.85L141.36 507.63L142.38 507.41L143.41 507.19L144.43 506.97L145.46 506.75L146.48 506.53L147.51 506.31L148.53 506.09L149.56 505.87L150.59 505.64L151.61 505.42L152.64 505.20L153.66 504.98L154.69 504.76L155.71 504.53L156.74 504.31L157.76 504.09L158.79 503.87L159.81 503.64L160.84 503.42L161.86 503.20L162.89 502.97L163.91 502.75L164.94 502.53L165.97 502.30L166.99 502.08L168.02 501.85L169.04 501.63L170.07 501.41L171.09 501.18L172.12 500.96L173.14 500.73L174.17 500.51L175.19 500.28L176.22 500.05L177.24 499.83L178.27 499.60L179.29 499.38L180.32 499.15L181.35 498.92L182.37 498.70L183.40 498.47L184.42 498.24L185.45 498.02L186.47 497.79L187.50 497.56L188.52 497.34L189.55 497.11L190.57 496.88L191.60 496.65L192.62 496.42L193.65 496.20L194.67 495.97L195.70 495.74L196.73 495.51L197.75 495.28L198.78 495.05L199.80 494.82L200.83 494.59L201.85 494.36L202.88 494.13L203.90 493.90L204.93 493.68L205.95 493.45L206.98 493.21L208.00 492.98L209.03 492.75L210.05 492.52L211.08 492.29L212.11 492.06L213.13 491.83L214.16 491.60L215.18 491.37L216.21 491.14L217.23 490.91L218.26 490.67L219.28 490.44L220.31 490.21L221.33 489.98L222.36 489.75L223.38 489.51L224.41 489.28L225.43 489.05L226.46 488.82L227.49 488.59L228.51 488.35L229.54 488.12L230.56 487.89L231.59 487.65L232.61 487.42L233.64 487.19L234.66 486.95L235.69 486.72L236.71 486.49L237.74 486.25L238.76 486.02L239.79 485.79L240.81 485.55L241.84 485.32L242.87 485.08L243.89 484.85L244.92 484.62L245.94 484.38L246.97 484.15L247.99 483.91L249.02 483.68L250.04 483.45L251.07 483.21L252.09 482.98L253.12 482.74L254.14 482.51L255.17 482.27L256.19 482.04L257.22 481.80L258.25 481.57L259.27 481.33L260.30 481.10L261.32 480.86L262.35 480.63L263.37 480.39L264.40 480.16L265.42 479.92L266.45 479.69L267.47 479.45L268.50 479.22L269.52 478.98L270.55 478.75L271.57 478.51L272.60 478.28L273.63 478.04L274.65 477.81L275.68 477.57L276.70 477.34L277.73 477.11L278.75 476.89L279.78 476.66L280.80 476.44L281.83 476.22L282.85 476.00L283.88 475.77L284.90 475.55L285.93 475.33L286.95 475.10L287.98 474.88L289.01 474.66L290.03 474.43L291.06 474.21L292.08 473.99L293.11 473.77L294.13 473.54L295.16 473.32L296.18 473.10L297.21 472.87L298.23 472.65L299.26 472.43L300.28 472.21L301.31 471.98L302.33 471.76L303.36 471.54L304.39 471.31L305.41 471.09L306.44 470.87L307.46 470.65L308.49 470.42L309.51 470.20L310.54 469.98L311.56 469.75L312.59 469.53L313.61 469.31L314.64 469.08L315.66 468.86L316.69 468.64L317.71 468.42L318.74 468.19L319.77 467.97L320.79 467.75L321.82 467.52L322.84 467.30L323.87 467.08L324.89 466.86L325.92 466.63L326.94 466.41L327.97 466.19L328.99 465.96L330.02 465.74L331.04 465.52L332.07 465.30L333.09 465.07L334.12 464.85L335.15 464.63L336.17 464.40L337.20 464.18L338.22 463.96L339.25 463.74L340.27 463.51L341.30 463.29L342.32 463.07L343.35 462.84L344.37 462.62L345.40 462.40L346.42 462.17L347.45 461.95L348.47 461.73L349.50 461.51" stroke="#ff7f0e" stroke-width="1.35" fill="none" stroke-linejoin="round"/>
<path d="M41.90 529.88L42.93 529.63L43.95 529.37L44.98 529.12L46.00 528.86L47.03 528.61L48.05 528.36L49.08 528.10L50.10 527.85L51.13 527.60L52.15 527.35L53.18 527.09L54.20 526.84L55.23 526.59L56.25 526.34L57.28 526.09L58.31 525.84L59.33 525.59L60.36 525.34L61.38 525.09L62.41 524.84L63.43 524.59L64.46 524.34L65.48 524.09L66.51 523.84L67.53 523.59L68.56 523.35L69.58 523.10L70.61 522.85L71.63 522.61L72.66 522.36L73.69 522.12L74.71 521.87L75.74 521.63L76.76 521.38L77.79 521.14L78.81 520.90L79.84 520.66L80.86 520.42L81.89 520.18L82.91 519.95L83.94 519.72L84.96 519.51L85.99 519.29L87.01 519.08L88.04 518.87L89.07 518.65L90.09 518.44L91.12 518.23L92.14 518.01L93.17 517.80L94.19 517.59L95.22 517.37L96.24 517.16L97.27 516.95L98.29 516.73L99.32 516.52L100.34 516.31L101.37 516.09L102.39 515.88L103.42 515.66L104.45 515.45L105.47 515.23L106.50 515.02L107.52 514.80L108.55 514.59L109.57 514.37L110.60 514.16L111.62 513.94L112.65 513.73L113.67 513.51L114.70 513.30L115.72 513.08L116.75 512.86L117.77 512.65L118.80 512.43L119.83 512.21L120.85 512.00L121.88 511.78L122.90 511.56L123.93 511.35L124.95 511.13L125.98 510.91L127.00 510.69L128.03 510.48L129.05 510.26L130.08 510.04L131.10 509.82L132.13 509.60L133.15 509.38L134.18 509.17L135.21 508.95L136.23 508.73L137.26 508.51L138.28 508.29L139.31 508.07L140.33 507.85L141.36 507.63L142.38 507.41L143.41 507.19L144.43 506.97L145.46 506.75L146.48 506.53L147.51 506.31L148.53 506.09L149.56 505.87L150.59 505.64L151.61 505.42L152.64 505.20L153.66 504.98L154.69 504.76L155.71 504.53L156.74 504.31L157.76 504.09L158.79 503.87L159.81 503.64L160.84 503.42L161.86 503.20L162.89 502.97L163.91 502.75L164.94 502.53L165.97 502.30L166.99 502.08L168.02 501.85L169.04 501.63L170.07 501.41L171.09 501.18L172.12 500.96L173.14 500.73L174.17 500.51L175.19 500.28L176.22 500.05L177.24 499.83L178.27 499.60L179.29 499.38L180.32 499.15L181.35 498.92L182.37 498.70L183.40 498.47L184.42 498.24L185.45 498.02L186.47 497.79L187.50 497.56L188.52 497.34L189.55 497.11L190.57 496.88L191.60 496.65L192.62 496.42L193.65 496.20L194.67 495.97L195.70 495.74L196.73 495.51L197.75 495.28L198.78 495.05L199.80 494.82L200.83 494.59L201.85 494.36L202.88 494.13L203.90 493.90L204.93 493.68L205.95 493.45L206.98 493.21L208.00 492.98L209.03 492.75L210.05 492.52L211.08 492.29L212.11 492.06L213.13 491.83L214.16 491.60L215.18 491.37L216.21 491.14L217.23 490.91L218.26 490.67L219.28 490.44L220.31 490.21L221.33 489.98L222.36 489.75L223.38 489.51L224.41 489.28L225.43 489.05L226.46 488.82L227.49 488.59L228.51 488.35L229.54 488.12L230.56 487.89L231.59 487.65L232.61 487.42L233.64 487.19L234.66 486.95L235.69 486.72L236.71 486.49L237.74 486.25L238.76 486.02L239.79 485.79L240.81 485.55L241.84 485.32L242.87 485.08L243.89 484.85L244.92 484.62L245.94 484.38L246.97 484.15L247.99 483.91L249.02 483.68L250.04 483.45L251.07 483.21L252.09 482.98L253.12 482.74L254.14 482.51L255.17 482.27L256.19 482.04L257.22 481.80L258.25 481.57L259.27 481.33L260.30 481.10L261.32 480.86L262.35 480.63L263.37 480.39L264.40 480.16L265.42 479.92L266.45 479.69L267.47 479.45L268.50 479.22L269.52 478.98L270.55 478.75L271.57 478.51L272.60 478.28L273.63 478.04L274.65 477.81L275.68 477.57L276.70 477.34L277.73 477.11L278.75 476.89L279.78 476.66L280.80 476.44L281.83 476.22L282.85 476.00L283.88 475.77L284.90 475.55L285.93 475.33L286.95 475.10L287.98 474.88L289.01 474.66L290.03 474.43L291.06 474.21L292.08 473.99L293.11 473.77L294.13 473.54L295.16 473.32L296.18 473.10L297.21 472.87L298.23 472.65L299.26 472.43L300.28 472.21L301.31 471.98L302.33 471.76L303.36 471.54L304.39 471.31L305.41 471.09L306.44 470.87L307.46 470.65L308.49 470.42L309.51 470.20L310.54 469.98L311.56 469.75L312.59 469.53L313.61 469.31L314.64 469.08L315.66 468.86L316.69 468.64L317.71 468.42L318.74 468.19L319.77 467.97L320.79 467.75L321.82 467.52L322.84 467.30L323.87 467.08L324.89 466.86L325.92 466.63L326.94 466.41L327.97 466.19L328.99 465.96L330.02 465.74L331.04 465.52L332.07 465.30L333.09 465.07L334.12 464.85L335.15 464.63L336.17 464.40L337.20 464.18L338.22 463.96L339.25 463.74L340.27 463.51L341.30 463.29L342.32 463.07L343.35 462.84L344.37 462.62L345.40 462.40L346.42 462.17L347.45 461.95L348.47 461.73L349.50 461.51" stroke="#ff7f0e" stroke-width="1.1" stroke-dasharray="3.9 1.6" fill="none"/>
<path d="M41.9 493.4H349.5" stroke="#000" stroke-width="1.15" stroke-dasharray="3.8 1.6" fill="none"/>
</g>
<path d="M41.9 441.0h-2.4M41.9 470.4h-2.4M41.9 499.7h-2.4M41.9 529.1h-2.4M41.9 558.45h-2.4" stroke="#333" stroke-width="0.85" fill="none"/>
<text x="37.0" y="444.80" font-size="9.55" text-anchor="end">3.4</text>
<text x="37.0" y="474.20" font-size="9.55" text-anchor="end">3.2</text>
<text x="37.0" y="503.50" font-size="9.55" text-anchor="end">3.0</text>
<text x="37.0" y="532.90" font-size="9.55" text-anchor="end">2.8</text>
<text x="37.0" y="562.25" font-size="9.55" text-anchor="end">2.6</text>
<text class="t" x="150.4" y="442.0" font-size="10.3">NGC1333 VLA 3</text>
<text class="a" x="51.6" y="475.0" font-size="9.1">log FAP<tspan class="s" font-size="6.01" dy="1.6">Mod</tspan><tspan dy="-1.6"> = -7.10</tspan></text>
<text class="a" x="51.6" y="485.0" font-size="9.1">log FAP<tspan class="s" font-size="6.01" dy="1.6">Lin</tspan><tspan dy="-1.6"> = -7.79</tspan></text>
<rect x="41.9" y="24.6" width="307.6" height="535.9499999999999" fill="none" stroke="#2a2a2a" stroke-width="0.75"/>
<path d="M41.9 158.45H349.5M41.9 292.4H349.5M41.9 426.45H349.5" stroke="#333" stroke-width="0.85" fill="none"/>
<path d="M57.6 24.6v-2.4M57.6 158.45v-2.4M57.6 292.4v-2.4M57.6 426.45v-2.4M125.7 24.6v-2.4M125.7 158.45v-2.4M125.7 292.4v-2.4M125.7 426.45v-2.4M193.5 24.6v-2.4M193.5 158.45v-2.4M193.5 292.4v-2.4M193.5 426.45v-2.4M261.8 24.6v-2.4M261.8 158.45v-2.4M261.8 292.4v-2.4M261.8 426.45v-2.4M330.2 24.6v-2.4M330.2 158.45v-2.4M330.2 292.4v-2.4M330.2 426.45v-2.4" stroke="#333" stroke-width="0.85" fill="none"/>
<text x="91.4" y="18.0" font-size="9.55" text-anchor="middle">2016</text>
<text x="159.3" y="18.0" font-size="9.55" text-anchor="middle">2017</text>
<text x="227.3" y="18.0" font-size="9.55" text-anchor="middle">2018</text>
<text x="295.7" y="18.0" font-size="9.55" text-anchor="middle">2019</text>
<text x="196.2" y="7.9" font-size="9.75" text-anchor="middle">UT</text>
<path d="M60.54 560.55v2.4" stroke="#333" stroke-width="0.85" fill="none"/>
<text transform="translate(63.24 574.9) rotate(-20)" y="3.5" font-size="9.55" text-anchor="middle">57400</text>
<path d="M97.83 560.55v2.4" stroke="#333" stroke-width="0.85" fill="none"/>
<text transform="translate(100.53 574.9) rotate(-20)" y="3.5" font-size="9.55" text-anchor="middle">57600</text>
<path d="M135.11 560.55v2.4" stroke="#333" stroke-width="0.85" fill="none"/>
<text transform="translate(137.81 574.9) rotate(-20)" y="3.5" font-size="9.55" text-anchor="middle">57800</text>
<path d="M172.40 560.55v2.4" stroke="#333" stroke-width="0.85" fill="none"/>
<text transform="translate(175.10 574.9) rotate(-20)" y="3.5" font-size="9.55" text-anchor="middle">58000</text>
<path d="M209.68 560.55v2.4" stroke="#333" stroke-width="0.85" fill="none"/>
<text transform="translate(212.38 574.9) rotate(-20)" y="3.5" font-size="9.55" text-anchor="middle">58200</text>
<path d="M246.97 560.55v2.4" stroke="#333" stroke-width="0.85" fill="none"/>
<text transform="translate(249.67 574.9) rotate(-20)" y="3.5" font-size="9.55" text-anchor="middle">58400</text>
<path d="M284.25 560.55v2.4" stroke="#333" stroke-width="0.85" fill="none"/>
<text transform="translate(286.95 574.9) rotate(-20)" y="3.5" font-size="9.55" text-anchor="middle">58600</text>
<path d="M321.54 560.55v2.4" stroke="#333" stroke-width="0.85" fill="none"/>
<text transform="translate(324.24 574.9) rotate(-20)" y="3.5" font-size="9.55" text-anchor="middle">58800</text>
<text x="196.0" y="596.8" font-size="9.75" text-anchor="middle">MJD</text>
<text transform="translate(8.4 275.8) rotate(-90)" font-size="10.4" text-anchor="middle">Peak flux [Jy/beam]</text>
</svg>
</body></html>
